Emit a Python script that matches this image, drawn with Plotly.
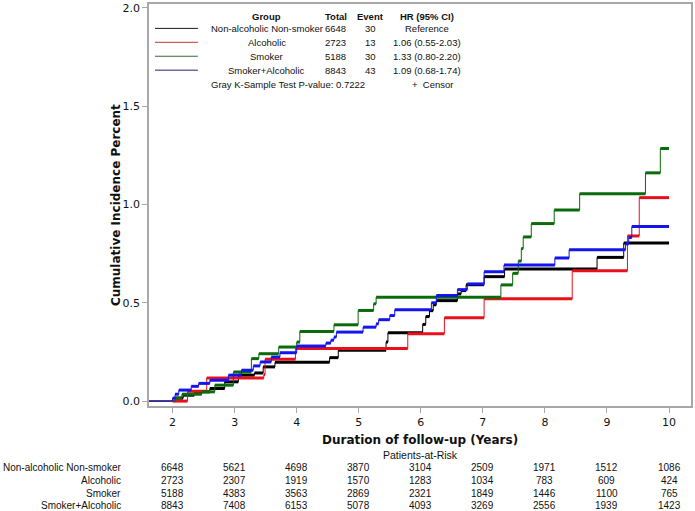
import plotly.graph_objects as go

# ---------------- data ----------------
groups = ["Non-alcoholic Non-smoker", "Alcoholic", "Smoker", "Smoker+Alcoholic"]
totals = [6648, 2723, 5188, 8843]
events = [30, 13, 30, 43]
hr_text = ["Reference", "1.06 (0.55-2.03)", "1.33 (0.80-2.20)", "1.09 (0.68-1.74)"]
p_value = "0.7222"

risk_times = [2, 3, 4, 5, 6, 7, 8, 9, 10]
risk_nonalc = [6648, 5621, 4698, 3870, 3104, 2509, 1971, 1512, 1086]
risk_alc = [2723, 2307, 1919, 1570, 1283, 1034, 783, 609, 424]
risk_smk = [5188, 4383, 3563, 2869, 2321, 1849, 1446, 1100, 765]
risk_both = [8843, 7408, 6153, 5078, 4093, 3269, 2556, 1939, 1423]

# cumulative incidence (%) step curves: event times (years) and levels after each step
t_nonalc = [2.04, 2.17, 2.35, 2.60, 2.84, 3.06, 3.32, 3.46, 3.65, 4.53, 4.67, 5.44, 5.47,
            6.03, 6.08, 6.14, 6.20, 6.25, 6.59, 6.65, 6.73, 7.02, 7.35, 8.84, 9.27]
ci_nonalc = [0.015, 0.030, 0.047, 0.064, 0.098, 0.132, 0.143, 0.174, 0.197, 0.221, 0.258, 0.300, 0.348,
             0.390, 0.430, 0.460, 0.490, 0.511, 0.545, 0.562, 0.592, 0.633, 0.672, 0.731, 0.804]

t_alc = [2.00, 2.24, 2.55, 3.47, 3.49, 3.98, 5.79, 6.38, 7.02, 8.44, 9.33, 9.52]
ci_alc = [0.000, 0.050, 0.118, 0.135, 0.213, 0.267, 0.343, 0.424, 0.520, 0.663, 0.840, 1.035]

t_smk = [2.05, 2.15, 2.47, 2.68, 2.98, 3.27, 3.39, 3.71, 4.00, 4.05, 4.60, 4.99, 5.24, 5.28,
         7.29, 7.48, 7.57, 7.62, 7.65, 7.78, 8.15, 8.56, 9.62, 9.86]
ci_smk = [0.016, 0.035, 0.047, 0.081, 0.148, 0.216, 0.241, 0.275, 0.300, 0.354, 0.388, 0.461, 0.495, 0.528,
          0.591, 0.650, 0.712, 0.776, 0.835, 0.903, 0.972, 1.055, 1.161, 1.285]

t_both = [2.00, 2.04, 2.10, 2.30, 2.42, 2.60, 2.90, 3.11, 3.30, 3.41, 3.59, 3.73, 4.00, 4.47, 4.55,
          4.60, 4.64, 5.07, 5.28, 5.32, 5.50, 5.58, 6.17, 6.25, 6.59, 6.75, 7.02, 7.34, 8.16, 8.39,
          9.30, 9.35, 9.40]
ci_both = [0.015, 0.035, 0.056, 0.075, 0.090, 0.106, 0.132, 0.157, 0.179, 0.199, 0.224, 0.246, 0.280, 0.295, 0.310,
           0.326, 0.351, 0.376, 0.393, 0.414, 0.435, 0.464, 0.500, 0.537, 0.567, 0.596, 0.658, 0.692, 0.728, 0.770,
           0.800, 0.832, 0.888]

end_time = 10.0
y_ticks = [0.0, 0.5, 1.0, 1.5, 2.0]

# ---------------- styling ----------------
colors = ["#000000", "#e8101a", "#0b6a0b", "#1414f0"]
legend_colors = ["#1a1a1a", "#c0392b", "#2d6e2d", "#23237a"]
W, H = 695, 511
L, R, T, B = 149, 3, 2, 105
PW, PH = W - L - R, H - T - B
FONT = "Liberation Sans"
AXFONT = "DejaVu Sans"


def px(xpix):
    return (xpix - L) / PW


def py(ypix):
    return (H - B - ypix) / PH


fig = go.Figure()

curves = [(t_nonalc, ci_nonalc), (t_alc, ci_alc), (t_smk, ci_smk), (t_both, ci_both)]
for (tt, cc), col, name in zip(curves, colors, groups):
    # thin step line (includes vertical jumps)
    xs = [0.0] + tt + [end_time]
    ys = [0.0] + cc + [cc[-1]]
    fig.add_trace(go.Scatter(x=xs, y=ys, mode="lines", line=dict(color=col, width=1, shape="hv"),
                             name=name, showlegend=False, hoverinfo="skip"))
    # thick horizontal plateaus (dense censoring marks)
    hx, hy = [], []
    nxt = tt[1:] + [end_time]
    for a, b, v in zip(tt, nxt, cc):
        hx += [a, b, None]
        hy += [v, v, None]
    fig.add_trace(go.Scatter(x=hx, y=hy, mode="lines", line=dict(color=col, width=3),
                             showlegend=False, hoverinfo="skip"))

annotations = []
shapes = []

# ---------------- in-plot legend table ----------------
hdr_y = 15
row_y = [26.5, 40.5, 54.5, 68.5]
gray_y = 82.5
col_group, col_total, col_event, col_hr = 267, 336, 371, 428
lf = dict(family=FONT, size=9.5, color="#111111")
tf = dict(family=FONT, size=10, color="#111111")
for txt, xc in [("Group", col_group), ("Total", col_total), ("Event", col_event), ("HR (95% CI)", col_hr)]:
    annotations.append(dict(x=px(xc), y=py(hdr_y), xref="paper", yref="paper", text="<b>%s</b>" % txt,
                            showarrow=False, font=lf, xanchor="center", yanchor="middle"))
for i in range(4):
    shapes.append(dict(type="line", xref="paper", yref="paper", x0=px(155), x1=px(198),
                       y0=py(row_y[i]), y1=py(row_y[i]), line=dict(color=legend_colors[i], width=1)))
    for txt, xc in [(groups[i], col_group), (str(totals[i]), col_total), (str(events[i]), col_event),
                    (hr_text[i], col_hr)]:
        annotations.append(dict(x=px(xc), y=py(row_y[i]), xref="paper", yref="paper", text=txt,
                                showarrow=False, font=lf, xanchor="center", yanchor="middle"))
annotations.append(dict(x=px(209), y=py(gray_y), xref="paper", yref="paper",
                        text="Gray K-Sample Test P-value: " + p_value, showarrow=False, font=lf,
                        xanchor="left", yanchor="middle"))
annotations.append(dict(x=px(433), y=py(gray_y), xref="paper", yref="paper",
                        text="+  Censor", showarrow=False, font=lf, xanchor="center", yanchor="middle"))

# ---------------- axis titles ----------------
annotations.append(dict(x=px(116), y=0.5, xref="paper", yref="paper",
                        text="<b>Cumulative Incidence Percent</b>", textangle=-90, showarrow=False,
                        font=dict(family=AXFONT, size=12, color="#111111"), xanchor="center", yanchor="middle"))
annotations.append(dict(x=0.5, y=py(440), xref="paper", yref="paper",
                        text="<b>Duration of follow-up (Years)</b>", showarrow=False,
                        font=dict(family=AXFONT, size=12, color="#111111"), xanchor="center", yanchor="middle"))

# ---------------- patients at risk table ----------------
annotations.append(dict(x=0.5, y=py(455), xref="paper", yref="paper", text="Patients-at-Risk",
                        showarrow=False, font=dict(family=FONT, size=10.5, color="#111111"),
                        xanchor="center", yanchor="middle"))
risk_rows = [risk_nonalc, risk_alc, risk_smk, risk_both]
risk_y = [467.5, 480.5, 493.5, 505.5]
for i, row in enumerate(risk_rows):
    annotations.append(dict(x=px(123), y=py(risk_y[i]), xref="paper", yref="paper", text=groups[i],
                            showarrow=False, font=tf, xanchor="right", yanchor="middle"))
    for tx, n in zip(risk_times, row):
        annotations.append(dict(x=tx, y=py(risk_y[i]), xref="x", yref="paper", text=str(n),
                                showarrow=False, font=tf, xanchor="center", yanchor="middle"))

fig.update_layout(
    width=W, height=H,
    margin=dict(l=L, r=R, t=T, b=B, pad=0),
    paper_bgcolor="white", plot_bgcolor="white",
    showlegend=False,
    annotations=annotations, shapes=shapes,
    xaxis=dict(range=[1.62, 10.354], tickvals=risk_times, ticktext=[str(v) for v in risk_times],
               showgrid=False, zeroline=False, showline=True, mirror=True, linecolor="#a8a8a8", linewidth=1.5,
               ticks="outside", ticklen=5, tickcolor="#a8a8a8", tickwidth=1,
               tickfont=dict(family=AXFONT, size=11, color="#111111")),
    yaxis=dict(range=[-0.025, 2.02], tickvals=y_ticks, ticktext=["%.1f" % v for v in y_ticks],
               showgrid=False, zeroline=False, showline=True, mirror=True, linecolor="#a8a8a8", linewidth=1.5,
               ticks="outside", ticklen=5, tickcolor="#a8a8a8", tickwidth=1,
               tickfont=dict(family=AXFONT, size=11, color="#111111")),
)

fig.write_html("out.html", config={"displayModeBar": False},
               post_script="document.body.style.margin='0px';")
